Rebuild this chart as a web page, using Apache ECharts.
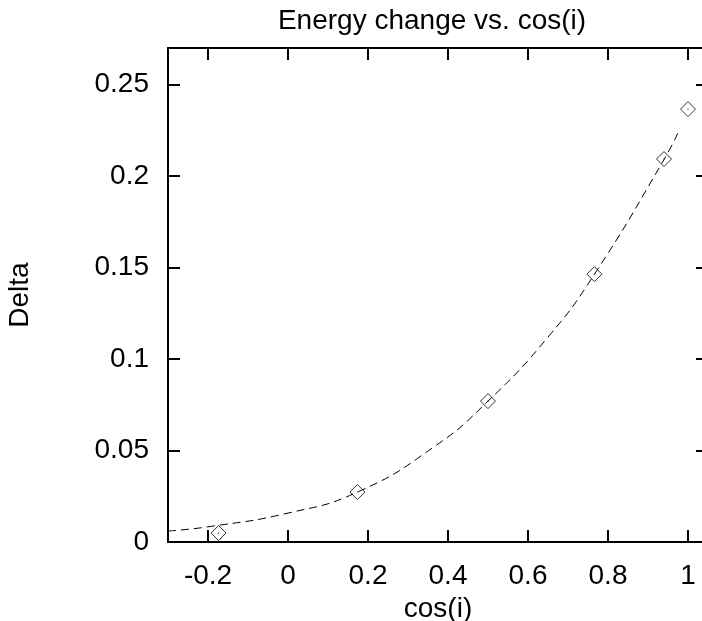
<!DOCTYPE html>
<html>
<head>
<meta charset="utf-8">
<title>Energy change vs. cos(i)</title>
<script src="https://cdn.jsdelivr.net/npm/echarts@6/dist/echarts.min.js"></script>
<style>
  html, body { margin: 0; padding: 0; background: #fff; }
  #chart { width: 702px; height: 621px; }
</style>
</head>
<body>
<div id="chart"></div>
<script>
// measured points (cos(i), Delta)
const pointX = [-0.1736, 0.1736, 0.5, 0.766, 0.94, 1.0];
const pointY = [0.0049, 0.0273, 0.077, 0.1464, 0.2093, 0.2366];

// dashed fit curve
const curveX = [-0.3, -0.2, 0, 0.1736, 0.365, 0.5, 0.65, 0.765, 0.94, 0.98];
const curveY = [0.006, 0.0083, 0.0158, 0.0273, 0.052, 0.077, 0.112, 0.146, 0.209, 0.226];

const font = 'Liberation Sans, Arial, Helvetica, sans-serif';
const fs = 28;

const chart = echarts.init(document.getElementById('chart'));

// shared look for the 4 frame axes
function frameAxis(extra) {
  return Object.assign({
    type: 'value',
    axisLine: { show: true, onZero: false, lineStyle: { color: '#000', width: 2 } },
    axisTick: { show: true, inside: true, length: 12, lineStyle: { color: '#000', width: 2 } },
    splitLine: { show: false },
    axisLabel: { show: false }
  }, extra);
}

const xLabel = { show: true, color: '#000', fontSize: fs, fontFamily: font, margin: 20, showMinLabel: false, showMaxLabel: false };
const yLabel = { show: true, color: '#000', fontSize: fs, fontFamily: font, margin: 19, showMaxLabel: false };

const option = {
  animation: false,
  backgroundColor: '#fff',
  // right frame line falls just past the picture edge, like the original
  grid: { left: 168, top: 48, width: 540, height: 494, outerBoundsMode: 'none' },
  graphic: [{
    type: 'text',
    x: 432, y: 21,
    style: { text: 'Energy change vs. cos(i)', align: 'center', verticalAlign: 'middle', fontSize: 28, fontFamily: font, fill: '#000' }
  }],
  xAxis: [
    frameAxis({ position: 'bottom', min: -0.3, max: 1.05, minInterval: 0.2, maxInterval: 0.2, axisLabel: xLabel,
      name: 'cos(i)', nameLocation: 'middle', nameGap: 45, nameTextStyle: { color: '#000', fontSize: fs, fontFamily: font } }),
    frameAxis({ position: 'top', min: -0.3, max: 1.05, minInterval: 0.2, maxInterval: 0.2 })
  ],
  yAxis: [
    frameAxis({ position: 'left', min: 0, max: 0.27, interval: 0.05, axisLabel: yLabel,
      name: 'Delta', nameLocation: 'middle', nameRotate: 90, nameGap: 134, nameTextStyle: { color: '#000', fontSize: fs, fontFamily: font } }),
    frameAxis({ position: 'right', min: 0, max: 0.27, interval: 0.05 })
  ],
  series: [
    {
      type: 'line',
      data: curveX.map((x, i) => [x, curveY[i]]),
      smooth: 0.5,
      showSymbol: false,
      lineStyle: { color: '#000', width: 1, type: [8, 5] }
    },
    {
      type: 'scatter',
      data: pointX.map((x, i) => [x, pointY[i]]),
      symbol: 'diamond',
      symbolSize: 15,
      itemStyle: { color: '#fff', borderColor: '#000', borderWidth: 1 }
    },
    {
      // small centre dot inside each diamond
      type: 'scatter',
      data: pointX.map((x, i) => [x, pointY[i]]),
      symbol: 'circle',
      symbolSize: 1.5,
      itemStyle: { color: '#444' }
    }
  ]
};

chart.setOption(option);
</script>
</body>
</html>
